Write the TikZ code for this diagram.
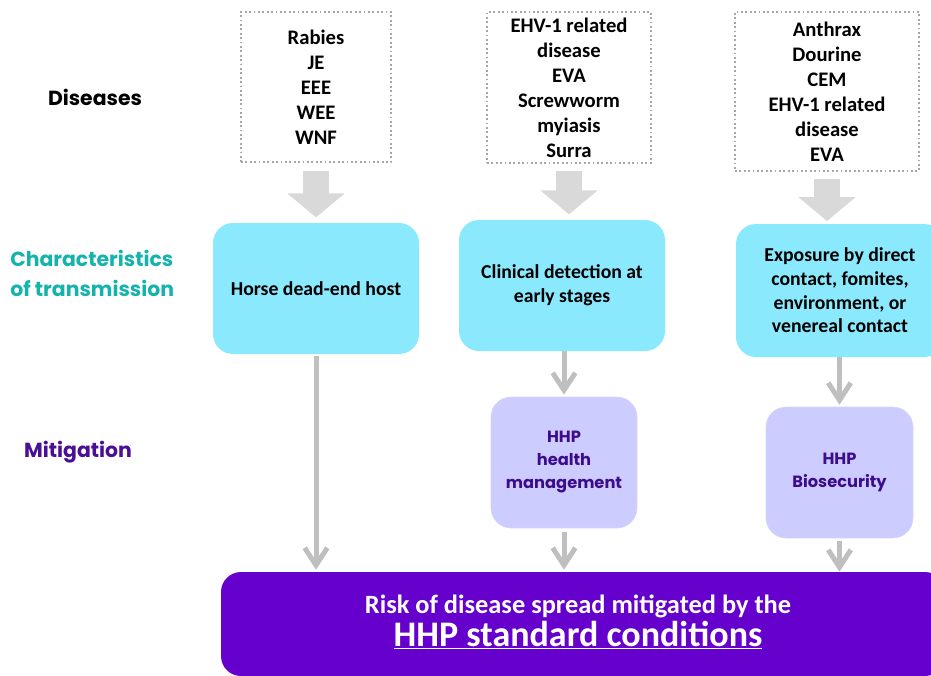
\documentclass[tikz,border=0pt]{standalone}
\usepackage{fontspec}
\setmainfont{Carlito}
\newfontfamily\fut{Poppins}
\usetikzlibrary{arrows.meta}
\definecolor{cyanbox}{HTML}{8BE9FD}
\definecolor{lavbox}{HTML}{CCCCFF}
\definecolor{purplebox}{HTML}{6600CC}
\definecolor{teallbl}{HTML}{14B3AB}
\definecolor{mitlbl}{HTML}{4B0E96}
\definecolor{hhptxt}{HTML}{3D0C8C}
\definecolor{blockgray}{HTML}{D9D9D9}
\definecolor{thingray}{HTML}{BFBFBF}
\definecolor{dotgray}{HTML}{A6A6A6}
\tikzset{
  dbox/.style={draw=dotgray, dotted, line width=1.3pt, align=center, font=\bfseries\fontsize{15.5}{18.75}\selectfont, inner sep=0pt},
  cbox/.style={fill=cyanbox, rounded corners=15pt, align=center, font=\bfseries\fontsize{14.8}{17.8}\selectfont, inner sep=0pt},
  lbox/.style={fill=lavbox, draw=lavbox!80!white, rounded corners=15pt, align=center, text=hhptxt, font=\fut\bfseries\fontsize{12.2}{17.25}\selectfont, inner sep=0pt},
  blockarrow/.style={draw=blockgray, line width=19pt, -{Triangle[width=42pt,length=18pt]}},
  thinarrow/.style={draw=thingray, line width=3.75pt, -{Straight Barb[length=13pt,width=17pt]}},
  catlbl/.style={font=\fut\bfseries\fontsize{15.3}{22.5}\selectfont, inner sep=0pt}
}
\begin{document}
\begin{tikzpicture}[x=0.75pt,y=-0.75pt]
\useasboundingbox (0,0) rectangle (931,675);
\clip (0,0) rectangle (931,675);
% category labels
\node[catlbl] (lblDis) at (95,97) {Diseases};
\node[catlbl, text=teallbl, align=left, anchor=west] (lblChar) at (10,273) {Characteristics\\of transmission};
\node[catlbl, text=mitlbl] (lblMit) at (78,452) {Mitigation};
% disease boxes
\node[dbox, minimum width=112.5pt, minimum height=112.5pt] (d1) at (316,87) {Rabies\\JE\\EEE\\WEE\\WNF};
\node[dbox, minimum width=123pt, minimum height=113.25pt] (d2) at (569,87.5) {EHV-1 related\\disease\\EVA\\Screwworm\\myiasis\\Surra};
\node[dbox, minimum width=138pt, minimum height=119.25pt] (d3) at (827,91.5) {Anthrax\\Dourine\\CEM\\EHV-1 related\\disease\\EVA};
% transmission boxes
\node[cbox, minimum width=154.5pt, minimum height=98.25pt] (c1) at (316,288.5) {Horse dead-end host};
\node[cbox, minimum width=154.5pt, minimum height=98.25pt] (c2) at (562,285.5) {Clinical detection at\\early stages};
\node[cbox, minimum width=156pt, minimum height=99.75pt] (c3) at (840,290.5) {Exposure by direct\\contact, fomites,\\environment, or\\venereal contact};
% mitigation boxes
\node[lbox, minimum width=109.5pt, minimum height=98.25pt] (m2) at (564,462.5) {HHP\\health\\management};
\node[lbox, minimum width=110.25pt, minimum height=98.25pt] (m3) at (839.5,472.5) {HHP\\Biosecurity};
% result box
\node[fill=purplebox, rounded corners=15pt, minimum width=543pt, minimum height=78pt, inner sep=0pt] (res) at (583,624) {};
\node[text=white, align=center, inner sep=0pt] (restxt) at (578,622) {{\bfseries\fontsize{19.8}{22}\selectfont Risk of disease spread mitigated by the}\\[1pt]{\bfseries\fontsize{27}{28}\selectfont\underline{HHP standard conditions}}};
% block arrows
\draw[blockarrow, shorten <=6pt, shorten >=4pt] (d1.south) -- (c1.north);
\draw[blockarrow, shorten <=5pt, shorten >=4pt] (d2.south) -- (c2.north-|d2.south);
\draw[blockarrow, shorten <=5pt, shorten >=2pt] (d3.south) -- (c3.north-|d3.south);
% thin arrows
\draw[thinarrow, shorten <=1.5pt, shorten >=1.5pt] (c1.south) -- (res.north-|c1.south);
\draw[thinarrow, shorten <=0pt, shorten >=1.5pt] (c2.south-|m2.north) -- (m2.north);
\draw[thinarrow, shorten <=3pt, shorten >=1.5pt] (m2.south) -- (res.north-|m2.south);
\draw[thinarrow, shorten <=0pt, shorten >=1.5pt] (c3.south-|m3.north) -- (m3.north);
\draw[thinarrow, shorten <=2pt, shorten >=0pt] (m3.south) -- (res.north-|m3.south);
\end{tikzpicture}
\end{document}
